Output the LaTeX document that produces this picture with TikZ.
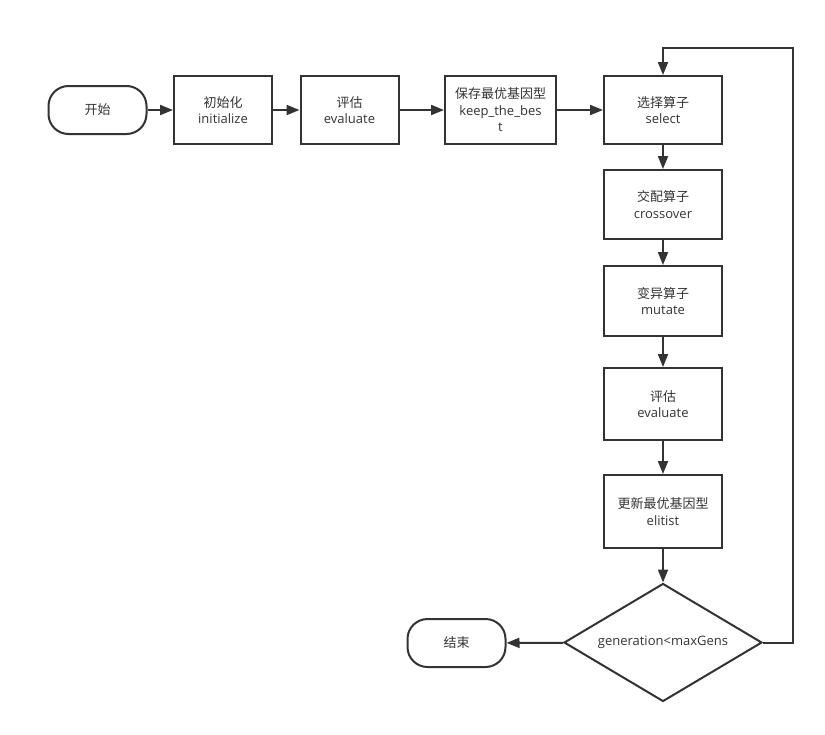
\documentclass[tikz,border=0pt]{standalone}
\usepackage{fontspec}
\setmainfont{Open Sans}
\newfontfamily\cjk{Noto Sans CJK SC}
\usepackage{tikz}
\usetikzlibrary{positioning}
\usetikzlibrary{arrows.meta}
\usetikzlibrary{shapes.geometric}

\definecolor{linegray}{HTML}{333333}

\begin{document}
\begin{tikzpicture}[x=1pt, y=-1pt, line width=2pt, draw=linegray,
    font=\fontsize{13}{16.5}\selectfont, text=linegray,
    flow/.style={-{Triangle[length=13pt, width=10pt]}, draw=linegray},
    process/.style={draw=linegray, rectangle, minimum width=98pt, minimum height=68pt, align=center, inner sep=2pt},
    terminal/.style={draw=linegray, rectangle, rounded corners=20pt, minimum width=98pt, minimum height=48pt, align=center},
    decision/.style={draw=linegray, diamond, minimum width=198pt, minimum height=118pt, aspect=1.67, inner sep=0pt}]

    \useasboundingbox (0,0) rectangle (825,734);

    % top row
    \node[terminal] (start) at (97.5,110) {\cjk 开始};
    \node[process] (init) at (223,110) {{\cjk 初始化}\\initialize};
    \node[process] (eval) at (349.5,110) {{\cjk 评估}\\evaluate};
    \node[process, minimum width=111pt] (keep) at (500.5,110) {{\cjk 保存最优基因型}\\keep\_the\_bes\\t};

    % main loop column
    \node[process, minimum width=118pt] (select) at (663,110) {{\cjk 选择算子}\\select};
    \node[process, minimum width=118pt, minimum height=69pt] (cross) at (663,204.5) {{\cjk 交配算子}\\crossover};
    \node[process, minimum width=118pt, minimum height=70pt] (mutate) at (663,301) {{\cjk 变异算子}\\mutate};
    \node[process, minimum width=118pt, minimum height=72pt] (eval2) at (663,404) {{\cjk 评估}\\evaluate};
    \node[process, minimum width=118pt, minimum height=73pt] (elite) at (663,511.5) {{\cjk 更新最优基因型}\\elitist};
    \node[decision] (check) at (663,642.5) {generation<maxGens};

    % end
    \node[terminal] (stop) at (456.5,643) {\cjk 结束};

    % back edge of the loop
    \coordinate (loop) at (793,48);

    \draw[flow] (start) -- (init);
    \draw[flow] (init) -- (eval);
    \draw[flow] (eval) -- (keep);
    \draw[flow] (keep) -- (select);
    \draw[flow] (select) -- (cross);
    \draw[flow] (cross) -- (mutate);
    \draw[flow] (mutate) -- (eval2);
    \draw[flow] (eval2) -- (elite);
    \draw[flow] (elite) -- (check);
    \draw[flow] (check) -- (stop);
    \draw[flow] (check.east) -| (loop) -| (select.north);

\end{tikzpicture}
\end{document}
